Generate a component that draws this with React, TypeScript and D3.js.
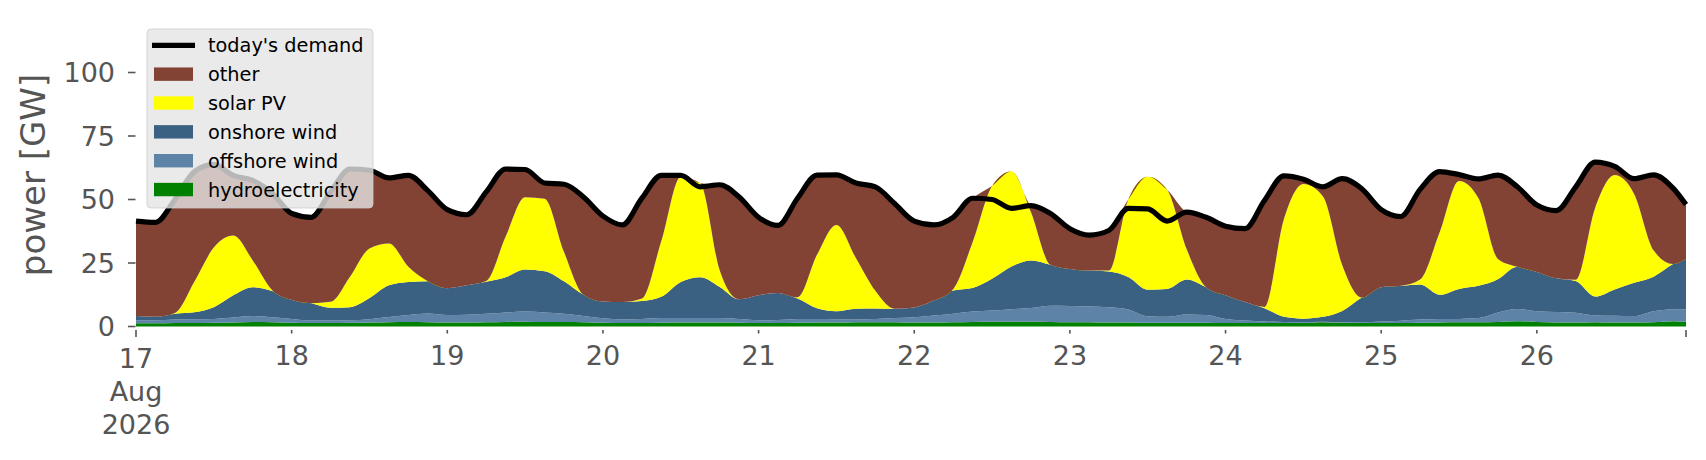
import React from 'react';
import * as d3 from 'd3';

// ---- data (GW), sampled every 3 hours from 17 Aug 2026 00:00, last point 26 Aug 23:00 ----
const START_UTC = Date.UTC(2026, 7, 17, 0, 0);
const STEP_HOURS = 3;
const LAST_HOUR = 239;
const Y_TICKS = [0, 25, 50, 75, 100];
const Y_MAX = 120;

const demand = [
  41.5, 41, 50, 61, 63.8, 59.5, 57.5, 52.5,
  44.5, 43, 53, 62, 61.5, 58.5, 59.5, 53.5,
  46, 44, 53, 62, 61.8, 56.5, 56, 51,
  43.5, 40, 50.5, 59.5, 59.5, 55, 55.8, 51,
  43, 39.8, 50.5, 59.6, 59.7, 56.5, 55, 48.3,
  41.5, 40, 43, 50.5, 50, 46.5, 47.6, 44.5,
  38.5, 36, 37.8, 46.5, 46.3, 41.5, 45, 43,
  39.5, 38.5, 49.6, 59.3, 58, 55, 58.2, 54.2,
  46, 43.3, 54, 61, 59.8, 58.1, 59.6, 55,
  47.8, 45.6, 55, 64.7, 63, 58.2, 59.7, 54.5,
  48,
];

const hydro = [
  1.3, 1.3, 1.4, 1.4, 1.5, 1.6, 1.8, 1.7,
  1.5, 1.4, 1.4, 1.5, 1.6, 1.7, 1.8, 1.7,
  1.6, 1.6, 1.7, 1.8, 1.9, 1.8, 1.8, 1.7,
  1.5, 1.4, 1.4, 1.5, 1.6, 1.6, 1.6, 1.5,
  1.4, 1.4, 1.5, 1.6, 1.6, 1.7, 1.7, 1.7,
  1.6, 1.6, 1.7, 1.8, 1.9, 1.9, 1.9, 1.8,
  1.7, 1.7, 1.6, 1.6, 1.5, 1.5, 1.5, 1.5,
  1.4, 1.4, 1.4, 1.4, 1.4, 1.7, 1.5, 1.4,
  1.4, 1.4, 1.5, 1.6, 1.7, 1.7, 1.8, 2.1,
  1.8, 1.6, 1.6, 1.7, 1.6, 1.6, 1.7, 2.1,
  1.9,
];

const offshore = [
  1.1, 1.2, 1.4, 1.5, 1.5, 1.9, 2.3, 1.9,
  1.5, 1.0, 1.0, 1.0, 1.3, 2.0, 2.7, 3.4,
  2.9, 3.0, 3.3, 3.7, 4.0, 3.7, 3.2, 2.4,
  1.7, 1.4, 1.6, 1.8, 1.7, 1.7, 1.7, 1.5,
  1.1, 1.2, 1.5, 1.4, 1.3, 1.1, 1.3, 1.6,
  2.0, 2.7, 3.3, 4.1, 4.4, 4.9, 5.4, 6.4,
  6.4, 6.2, 6.0, 5.1, 2.5, 2.3, 3.2, 3.0,
  1.6, 1.0, 0.6, 0.4, 0.3, 0.2, 0.2, 0.3,
  0.6, 0.9, 1.3, 1.4, 1.3, 1.6, 3.7, 4.8,
  4.2, 4.1, 3.8, 2.6, 2.6, 2.5, 4.3, 4.6,
  4.8,
];

const onshore = [
  1.7, 1.3, 2.2, 2.7, 4.6, 8.8, 11.4, 10.4,
  7.5, 6.8, 5.0, 5.1, 8.3, 12.5, 13.0, 12.7,
  10.6, 11.6, 12.6, 13.9, 16.5, 16.3, 12.8, 8.4,
  6.6, 6.8, 7.0, 8.4, 14.2, 16.1, 12.3, 7.7,
  9.8, 10.6, 8.0, 4.2, 3.1, 4.2, 4.1, 3.7,
  3.9, 5.9, 9.2, 9.3, 12.5, 16.8, 18.7, 16.1,
  14.5, 14.1, 14.1, 12.8, 10.5, 11.0, 13.8, 11.0,
  9.3, 7.2, 5.2, 2.0, 1.4, 1.9, 4.4, 9.7,
  13.5, 13.7, 13.7, 9.5, 11.8, 12.7, 13.1, 16.6,
  15.5, 13.3, 12.5, 7.5, 10.4, 13.1, 13.6, 17.9,
  19.9,
];

const solar = [
  0, 0, 0.3, 12, 23.5, 23.5, 10.5, 0.3,
  0, 0, 2.3, 12, 19.5, 16.5, 6, 0,
  0, 0, 0.3, 16, 28.5, 28.5, 11.5, 0,
  0, 0, 1, 22, 41.5, 37, 6.5, 0,
  0, 0, 0.5, 21, 34, 20, 7, 0,
  0, 0, 0.5, 18, 36.5, 37.5, 19, 0,
  0, 0, 0.3, 30.5, 44.5, 39, 12, 0,
  0, 0, 0.5, 38.5, 53, 47.5, 18, 0,
  0, 0, 2, 24.5, 42.5, 34.5, 8, 0,
  0, 0, 0.5, 35, 45, 35, 10.4, 0,
  0,
];

const SERIES_KEYS = ['hydro', 'offshore', 'onshore', 'solar', 'other'];
const COLORS: Record<string, string> = {
  other: '#834334',
  solar: '#ffff00',
  onshore: '#3a6082',
  offshore: '#5d84a6',
  hydro: '#008000',
};
const LEGEND = [
  { key: 'demand', label: "today's demand" },
  { key: 'other', label: 'other' },
  { key: 'solar', label: 'solar PV' },
  { key: 'onshore', label: 'onshore wind' },
  { key: 'offshore', label: 'offshore wind' },
  { key: 'hydro', label: 'hydroelectricity' },
];

// ---- layout ----
const W = 1706;
const H = 460;
const X0 = 136;
const X1 = 1686;
const YBOT = 326.5;
const YTOP = 21.7;
const FONT = '"DejaVu Sans", sans-serif';
const GREY = '#555555';

export default function App() {
  const hours = demand.map((_, i) => Math.min(i * STEP_HOURS, LAST_HOUR));
  const dates = hours.map((h) => new Date(START_UTC + h * 3600e3));
  const x = d3.scaleUtc().domain([dates[0], dates[dates.length - 1]]).range([X0, X1]);
  const y = d3.scaleLinear().domain([0, Y_MAX]).range([YBOT, YTOP]);

  const other = demand.map((d, i) =>
    Math.max(0, d - hydro[i] - offshore[i] - onshore[i] - solar[i])
  );
  const rows = dates.map((date, i) => ({
    date,
    hydro: hydro[i],
    offshore: offshore[i],
    onshore: onshore[i],
    solar: solar[i],
    other: other[i],
  }));
  const stacked = d3.stack<any>().keys(SERIES_KEYS)(rows);
  const area = d3
    .area<any>()
    .x((d) => x(d.data.date))
    .y0((d) => y(d[0]))
    .y1((d) => y(d[1]))
    .curve(d3.curveMonotoneX);
  const line = d3
    .line<number>()
    .x((_, i) => x(dates[i]))
    .y((d) => y(d))
    .curve(d3.curveMonotoneX);

  const lastDate = dates[dates.length - 1];
  const dayTicks = d3.utcDay.range(dates[0], new Date(lastDate.getTime() + 1));
  const fmtDay = d3.utcFormat('%-d');
  const fmtMon = d3.utcFormat('%b');
  const fmtYear = d3.utcFormat('%Y');

  const legendX = 147;
  const legendY = 29;
  const rowY0 = 45.3;
  const rowStep = 28.85;

  return (
    <svg
      width={W}
      height={H}
      viewBox={`0 0 ${W} ${H}`}
      style={{ position: 'absolute', left: 0, top: 0, background: '#fff' }}
      fontFamily={FONT}
    >
      <rect x={0} y={0} width={W} height={H} fill="#ffffff" />
      {/* stacked areas */}
      <g>
        {stacked.map((s) => (
          <path key={s.key} d={area(s) || ''} fill={COLORS[s.key]} />
        ))}
      </g>
      {/* demand line */}
      <path
        d={line(demand) || ''}
        fill="none"
        stroke="#000"
        strokeWidth={5.2}
        strokeLinejoin="round"
        strokeLinecap="butt"
      />

      {/* y axis */}
      <g>
        {Y_TICKS.map((t) => (
          <g key={t}>
            <line x1={128} x2={135.5} y1={y(t)} y2={y(t)} stroke={GREY} strokeWidth={1.6} />
            <text
              x={115}
              y={y(t)}
              dy="0.3645em"
              textAnchor="end"
              fontSize={27}
              fill={GREY}
            >
              {t}
            </text>
          </g>
        ))}
        <text
          transform={`translate(45,175) rotate(-90)`}
          textAnchor="middle"
          fontSize={34}
          fill={GREY}
        >
          power [GW]
        </text>
      </g>

      {/* x axis */}
      <g>
        {dayTicks.map((d, i) => {
          const major = i === 0;
          const px = x(d);
          return (
            <g key={d.getTime()}>
              <line
                x1={px}
                x2={px}
                y1={330}
                y2={major ? 337 : 333.5}
                stroke={GREY}
                strokeWidth={1.6}
              />
              <text x={px} y={major ? 368 : 365} textAnchor="middle" fontSize={27} fill={GREY}>
                {fmtDay(d)}
              </text>
              {major && (
                <>
                  <text x={px} y={401} textAnchor="middle" fontSize={27} fill={GREY}>
                    {fmtMon(d)}
                  </text>
                  <text x={px} y={433.5} textAnchor="middle" fontSize={27} fill={GREY}>
                    {fmtYear(d)}
                  </text>
                </>
              )}
            </g>
          );
        })}
        <line
          x1={x(lastDate)}
          x2={x(lastDate)}
          y1={330}
          y2={337}
          stroke={GREY}
          strokeWidth={1.6}
        />
      </g>

      {/* legend */}
      <g>
        <rect
          x={legendX}
          y={legendY}
          width={226}
          height={179}
          rx={4}
          fill="#e5e5e5"
          fillOpacity={0.8}
          stroke="#cccccc"
          strokeOpacity={0.8}
          strokeWidth={1}
        />
        {LEGEND.map((item, i) => {
          const cy = rowY0 + i * rowStep;
          return (
            <g key={item.key}>
              {item.key === 'demand' ? (
                <line x1={152} x2={195} y1={cy} y2={cy} stroke="#000" strokeWidth={5.2} />
              ) : (
                <rect x={154} y={cy - 6.7} width={39} height={13.4} fill={COLORS[item.key]} />
              )}
              <text x={208} y={cy + 7} fontSize={19.3} fill="#000">
                {item.label}
              </text>
            </g>
          );
        })}
      </g>
    </svg>
  );
}
